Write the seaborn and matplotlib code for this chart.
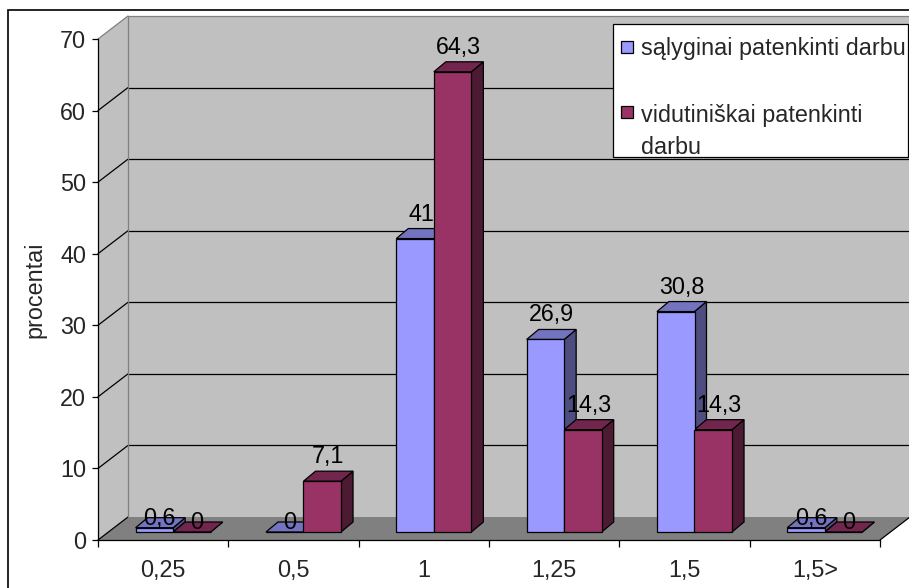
import numpy as np
import pandas as pd
import matplotlib
matplotlib.use("Agg")
import matplotlib.pyplot as plt
from matplotlib.patches import Polygon, Rectangle
from matplotlib.lines import Line2D
import seaborn as sns

# ---- data -------------------------------------------------------------
categories = ["0,25", "0,5", "1", "1,25", "1,5", "1,5>"]
salyginai = [0.6, 0.0, 41.0, 26.9, 30.8, 0.6]
vidutiniskai = [0.0, 7.1, 64.3, 14.3, 14.3, 0.0]
series_names = ["sąlyginai patenkinti darbu", "vidutiniškai patenkinti\ndarbu"]
series_colors = ["#9999FF", "#993366"]
y_ticks = [0, 10, 20, 30, 40, 50, 60, 70]
y_label = "procentai"

# ---- canvas helpers (pixel positions measured from the top-left) ------
W, H, DPI = 909, 588, 100


def fx(px):
    return px / W


def fy(py):
    return 1 - py / H


sns.set_theme(style="white")
plt.rcParams["font.family"] = ["Liberation Sans", "DejaVu Sans"]
FS = 16.8
LW = 0.9

fig = plt.figure(figsize=(W / DPI, H / DPI), dpi=DPI)
fig.patch.set_facecolor("white")

# front plane of the 3-D box
L, R, B, T = 98, 880, 540, 39
ax = fig.add_axes([fx(L), fy(B), fx(R) - fx(L), fy(T) - fy(B)])
ax.set_xlim(-0.5, len(categories) - 0.5)
ax.set_ylim(y_ticks[0], y_ticks[-1])
ax.patch.set_visible(False)

px_x = (R - L) / len(categories)       # pixels per category
px_y = (B - T) / (y_ticks[-1] - y_ticks[0])  # pixels per percent

# depth of the box (oblique projection)
DXW, DYW = 30 / px_x, 23 / px_y
x0, x1 = -0.5, len(categories) - 0.5
ymax = y_ticks[-1]

wall_c, floor_c, edge_c = "#C0C0C0", "#808080", "#808080"
ax.add_patch(Polygon([(x0, 0), (x0, ymax), (x0 + DXW, ymax + DYW), (x0 + DXW, DYW)],
                     closed=True, fc=wall_c, ec="none", clip_on=False, zorder=0.1))
ax.add_patch(Rectangle((x0 + DXW, DYW), x1 - x0, ymax, fc=wall_c, ec="none",
                       clip_on=False, zorder=0.1))
ax.add_patch(Polygon([(x0, 0), (x1, 0), (x1 + DXW, DYW), (x0 + DXW, DYW)],
                     closed=True, fc=floor_c, ec="none", clip_on=False, zorder=0.15))

# gridlines on the back and side walls
for yv in y_ticks:
    col = edge_c if yv == ymax else "black"
    ax.add_line(Line2D([x0, x0 + DXW], [yv, yv + DYW], color=col, lw=LW,
                       clip_on=False, zorder=0.2))
    if 0 < yv < ymax:
        ax.add_line(Line2D([x0 + DXW, x1 + DXW], [yv + DYW, yv + DYW], color="black",
                           lw=LW, clip_on=False, zorder=0.2))
ax.add_line(Line2D([x0 + DXW, x1 + DXW], [ymax + DYW, ymax + DYW], color=edge_c,
                   lw=LW, clip_on=False, zorder=0.2))
ax.add_line(Line2D([x0 + DXW, x0 + DXW], [DYW, ymax + DYW], color=edge_c,
                   lw=LW, clip_on=False, zorder=0.2))
ax.add_line(Line2D([x1, x1 + DXW], [0, DYW], color="black", lw=LW,
                   clip_on=False, zorder=0.2))

# axes lines and ticks
for s in ["top", "right"]:
    ax.spines[s].set_visible(False)
for s in ["left", "bottom"]:
    ax.spines[s].set_color("black")
    ax.spines[s].set_linewidth(LW)
    ax.spines[s].set_zorder(0.3)

ax.set_yticks(y_ticks)
ax.set_yticklabels([str(v) for v in y_ticks])
ax.tick_params(axis="y", direction="out", length=4.5, width=LW, color="black",
               pad=4, labelsize=FS, left=True)
ax.set_xticks(range(len(categories)))
ax.set_xticklabels(categories)
ax.set_xticks(np.arange(len(categories) + 1) - 0.5, minor=True)
ax.tick_params(axis="x", which="major", length=0, pad=14, labelsize=FS)
ax.tick_params(axis="x", which="minor", direction="out", length=5, width=LW,
               color="black", bottom=True)
ax.set_ylabel(y_label, fontsize=FS)
ax.yaxis.set_label_coords((46 - L) / (R - L), 0.5)
ax.set_xlabel("")

# ---- bars: front faces drawn by seaborn on a plane set into the box ---
BOX, BOY = 10, 8
bx = fig.add_axes([fx(L + BOX), fy(B - BOY), fx(R) - fx(L), fy(T) - fy(B)])
bx.patch.set_visible(False)

df = pd.DataFrame({
    "kategorija": categories * 2,
    "procentai": salyginai + vidutiniskai,
    "grupė": [series_names[0]] * len(categories) + [series_names[1]] * len(categories),
})
sns.barplot(data=df, x="kategorija", y="procentai", hue="grupė", order=categories,
            hue_order=series_names, palette=series_colors, saturation=1,
            width=0.576, edgecolor="black", linewidth=LW, legend=False, ax=bx)
bx.set_xlim(x0, x1)
bx.set_ylim(y_ticks[0], y_ticks[-1])
bx.axis("off")

DXB, DYB = 12 / px_x, 10 / px_y
bars = sorted([p for p in bx.patches if isinstance(p, Rectangle)], key=lambda p: p.get_x())
for i, p in enumerate(bars):
    bx0, w, h = p.get_x(), p.get_width(), p.get_height()
    rgb = np.array(p.get_facecolor()[:3])
    top = Polygon([(bx0, h), (bx0 + w, h), (bx0 + w + DXB, h + DYB), (bx0 + DXB, h + DYB)],
                  closed=True, fc=tuple(rgb * 0.75), ec="black", lw=LW,
                  clip_on=False, zorder=0.4 + i * 0.01)
    side = Polygon([(bx0 + w, 0), (bx0 + w, h), (bx0 + w + DXB, h + DYB), (bx0 + w + DXB, DYB)],
                   closed=True, fc=tuple(rgb * 0.5), ec="black", lw=LW,
                   clip_on=False, zorder=0.4 + i * 0.01)
    bx.add_patch(side)
    bx.add_patch(top)
    p.set_zorder(1)
    p.set_clip_on(False)

    label = f"{h:g}".replace(".", ",")
    if h >= 1:
        off = (6 * 0.72, 18 * 0.72)
    else:
        off = (5 * 0.72, 3 * 0.72)
    bx.annotate(label, xy=(bx0 + w / 2, h), xytext=off, textcoords="offset points",
                ha="center", va="baseline", fontsize=FS, color="black", zorder=3,
                annotation_clip=False)

# ---- legend -----------------------------------------------------------
fig.add_artist(Rectangle((fx(613), fy(157)), fx(908) - fx(613), fy(24) - fy(157),
                         transform=fig.transFigure, fc="white", ec="black", lw=LW, zorder=5))
for (sq_top, txt_top), name, col in zip([(41, 37), (106, 104)], series_names, series_colors):
    fig.add_artist(Rectangle((fx(621), fy(sq_top + 12)), fx(12), fy(0) - fy(12),
                             transform=fig.transFigure, fc=col, ec="black", lw=LW, zorder=6))
    fig.text(fx(641), fy(txt_top), name, ha="left", va="top", fontsize=FS,
             linespacing=1.5, zorder=6)

# outer chart border
fig.add_artist(Rectangle((fx(8), -0.05), 1.2, fy(10) + 0.05, transform=fig.transFigure,
                         fill=False, ec="black", lw=1.2, zorder=7))

fig.savefig("out.png", dpi=DPI)
